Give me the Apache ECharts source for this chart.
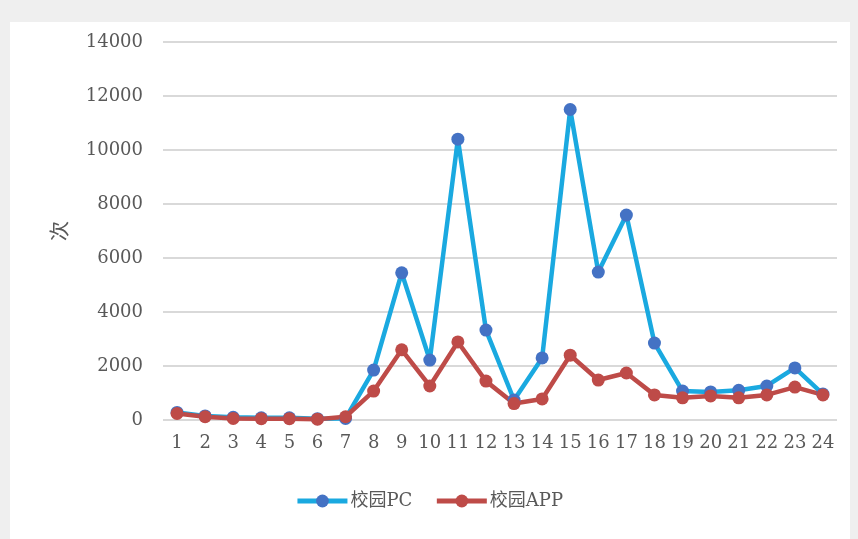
<!DOCTYPE html>
<html><head><meta charset="utf-8">
<script src="https://cdn.jsdelivr.net/npm/echarts@6/dist/echarts.min.js"></script>
<style>html,body{margin:0;padding:0;background:#efefef;}#c{width:858px;height:539px;}</style>
</head><body><div id="c"></div>
<script>
const categories = ['1','2','3','4','5','6','7','8','9','10','11','12','13','14','15','16','17','18','19','20','21','22','23','24'];
const pcValues = [280,150,100,80,80,50,60,1850,5450,2220,10400,3330,740,2300,11500,5480,7590,2850,1070,1040,1100,1260,1930,960];
const appValues = [240,120,60,50,50,30,120,1070,2600,1260,2890,1440,610,780,2400,1480,1740,930,820,890,820,930,1220,930];
const seriesNames = ['校园PC','校园APP'];
const yTicks = {min:0, max:14000, interval:2000};

const chart = echarts.init(document.getElementById('c'));
const labelFont = '"DejaVu Serif", "Liberation Serif", serif';
chart.setOption({
  backgroundColor: '#efefef',
  graphic: [{type:'rect', left:10, top:22, shape:{width:840, height:517}, style:{fill:'#ffffff'}, z:-10}],
  grid: {left:163, right:21, top:42, bottom:119},
  legend: {
    top: 487, left: 'center', itemWidth: 50, itemHeight: 16, itemGap: 22,
    lineStyle: {width: 5},
    textStyle: {color:'#595959', fontSize:18, fontFamily:'"DejaVu Serif", "Noto Sans CJK SC", serif', padding:[0,0,0,-2]},
    data: seriesNames
  },
  xAxis: {
    type:'category', data: categories, boundaryGap:true,
    axisLine:{show:false}, axisTick:{show:false},
    axisLabel:{color:'#595959', fontSize:18, fontFamily:labelFont, margin:14, interval:0}
  },
  yAxis: {
    type:'value', min:yTicks.min, max:yTicks.max, interval:yTicks.interval,
    name:'次', nameLocation:'middle', nameGap:94, nameRotate:90,
    nameTextStyle:{color:'#595959', fontSize:20, fontFamily:'"Noto Sans CJK SC", serif'},
    axisLabel:{color:'#595959', fontSize:18, fontFamily:labelFont, margin:20, formatter: v => String(v)},
    splitLine:{lineStyle:{color:'#d9d9d9', width:2}}
  },
  series: [
    {name:seriesNames[0], type:'line', data:pcValues, symbol:'circle', symbolSize:13,
     lineStyle:{color:'#1AA9E0', width:4.5}, itemStyle:{color:'#4472C4'}, color:'#1AA9E0'},
    {name:seriesNames[1], type:'line', data:appValues, symbol:'circle', symbolSize:13,
     lineStyle:{color:'#BE4B48', width:4.5}, itemStyle:{color:'#BE4B48'}, color:'#BE4B48'}
  ],
  animation:false
});
</script></body></html>
